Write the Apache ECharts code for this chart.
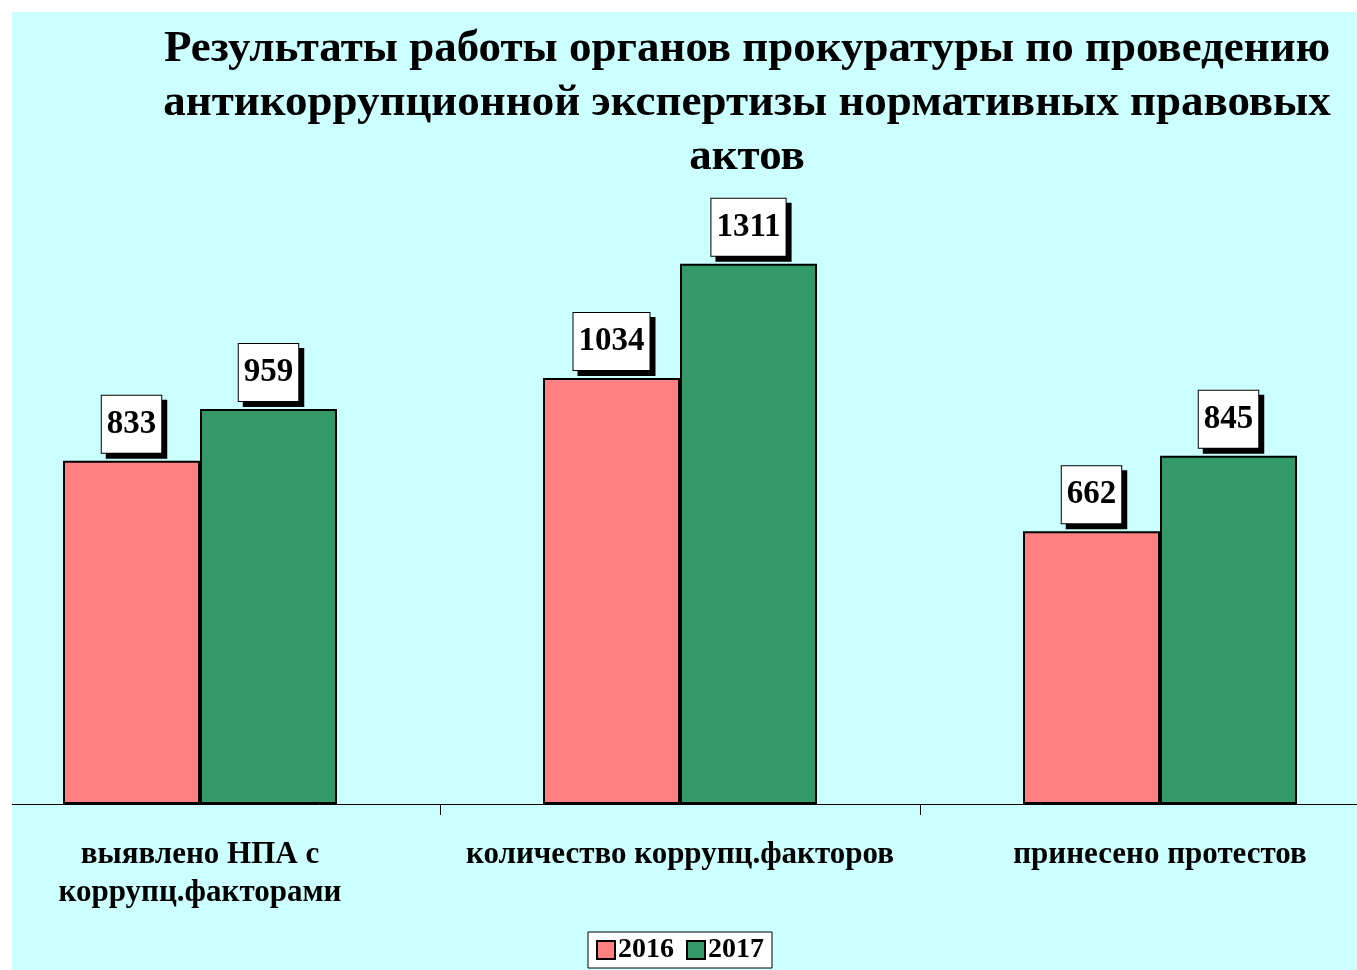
<!DOCTYPE html>
<html>
<head>
<meta charset="utf-8">
<script src="https://cdn.jsdelivr.net/npm/echarts@6/dist/echarts.min.js"></script>
<style>
  html, body { margin: 0; padding: 0; background: #ffffff; }
  /* внешний блок обрезает график по краю голубого фона */
  #frame { position: absolute; left: 12px; top: 12px; width: 1345px; height: 958px; overflow: hidden; background: #CCFFFF; }
  #chart { position: absolute; left: -52px; top: 0; width: 1440px; height: 958px; }
</style>
</head>
<body>
<div id="frame"><div id="chart"></div></div>
<script>
const categories = ['выявлено НПА с\nкоррупц.факторами', 'количество коррупц.факторов', 'принесено протестов'];
const years = ['2016', '2017'];
const values2016 = [833, 1034, 662];
const values2017 = [959, 1311, 845];
const titleText = 'Результаты работы органов прокуратуры по проведению\nантикоррупционной экспертизы нормативных правовых\nактов';

const fontFamily = '"Liberation Serif", "DejaVu Serif", serif';

const labelStyle = {
  show: true,
  position: 'top',
  distance: 8,
  fontFamily: fontFamily,
  fontWeight: 'bold',
  fontSize: 33,
  lineHeight: 33,
  color: '#000',
  backgroundColor: '#fff',
  borderColor: '#000',
  borderWidth: 1,
  padding: [12, 5, 12, 5],
  shadowColor: '#000',
  shadowBlur: 0,
  shadowOffsetX: 5,
  shadowOffsetY: 5
};

const myChart = echarts.init(document.getElementById('chart'));
myChart.setOption({
  backgroundColor: 'transparent',
  animation: false,
  title: {
    text: titleText,
    left: 782,
    top: 5,
    textAlign: 'center',
    textStyle: {
      fontFamily: fontFamily,
      fontWeight: 'bold',
      fontSize: 45,
      lineHeight: 54,
      color: '#000'
    }
  },
  legend: {
    data: years,
    left: 'center',
    bottom: 2,
    icon: 'rect',
    itemWidth: 18,
    itemHeight: 18,
    itemGap: 12,
    padding: [4, 8, 4, 8],
    borderColor: '#000',
    borderWidth: 1,
    backgroundColor: '#fff',
    itemStyle: { borderColor: '#000', borderWidth: 2 },
    textStyle: {
      fontFamily: fontFamily,
      fontWeight: 'bold',
      fontSize: 28,
      color: '#000',
      padding: [0, 0, 0, -2]
    }
  },
  grid: {
    left: 0,
    right: 0,
    top: 174,
    bottom: 166,
    containLabel: false
  },
  xAxis: {
    type: 'category',
    data: categories,
    axisLine: { lineStyle: { color: '#000', width: 1 } },
    axisTick: { show: true, length: 11, lineStyle: { color: '#000' } },
    axisLabel: {
      margin: 32,
      fontFamily: fontFamily,
      fontWeight: 'bold',
      fontSize: 31,
      lineHeight: 38,
      color: '#000',
      interval: 0
    }
  },
  yAxis: {
    type: 'value',
    min: 0,
    max: 1500,
    show: false,
    splitLine: { show: false }
  },
  series: [
    {
      name: years[0],
      type: 'bar',
      data: values2016,
      barWidth: 137,
      barGap: '0%',
      itemStyle: { color: '#FF8080', borderColor: '#000', borderWidth: 2 },
      label: labelStyle
    },
    {
      name: years[1],
      type: 'bar',
      data: values2017,
      barWidth: 137,
      itemStyle: { color: '#339966', borderColor: '#000', borderWidth: 2 },
      label: labelStyle
    }
  ]
});
</script>
</body>
</html>
